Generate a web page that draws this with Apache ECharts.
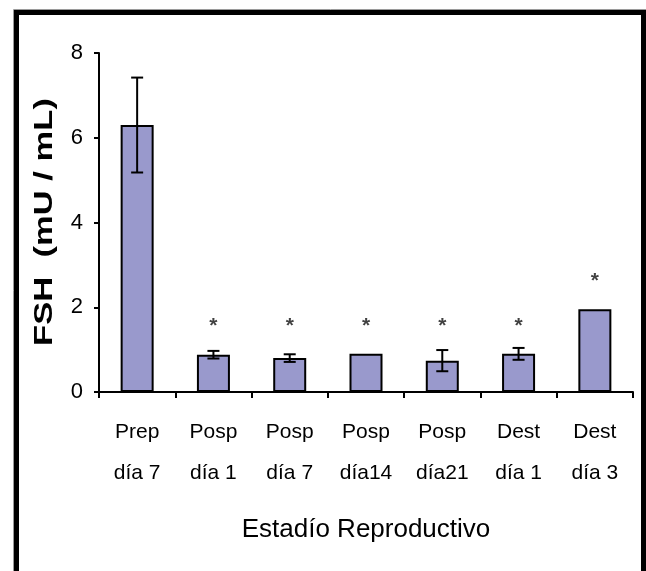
<!DOCTYPE html>
<html>
<head>
<meta charset="utf-8">
<script src="https://cdn.jsdelivr.net/npm/echarts@6/dist/echarts.min.js"></script>
<style>
  html, body { margin: 0; padding: 0; background: #ffffff; }
  #chart { width: 646px; height: 571px; }
</style>
</head>
<body>
<div id="chart"></div>
<script>
// Reproductive stages (x categories)
const stages = ['Prep\ndía 7', 'Posp\ndía 1', 'Posp\ndía 7', 'Posp\ndía14', 'Posp\ndía21', 'Dest\ndía 1', 'Dest\ndía 3'];
// Mean FSH (mU/mL) per stage
const fshMean = [6.3, 0.88, 0.80, 0.90, 0.74, 0.90, 1.95];
// Standard error per stage (0 = no bar drawn)
const fshErr = [1.12, 0.09, 0.09, 0, 0.25, 0.14, 0];
// Significance markers and the height where each one sits
const sigMark = ['', '*', '*', '*', '*', '*', '*'];
const sigLevel = [null, 1.65, 1.65, 1.65, 1.65, 1.65, 2.7];
// Axis titles
const xTitle = 'Estadío Reproductivo';
const yTitle = 'FSH  (mU / mL)';

const regular = '"Liberation Sans", Arial, sans-serif';

const chart = echarts.init(document.getElementById('chart'), null, { renderer: 'canvas' });

const errorData = fshMean.map((m, i) => [i, m, fshErr[i]]);
const sigData = sigLevel.map((v, i) => (v == null ? null : [i, v, sigMark[i]]));

chart.setOption({
  animation: false,
  backgroundColor: '#ffffff',
  grid: { left: 99, right: 13, top: 53, bottom: 179, containLabel: false },
  xAxis: {
    type: 'category',
    data: stages,
    boundaryGap: true,
    axisLine: { lineStyle: { color: '#000', width: 2 } },
    axisTick: { show: true, length: 6, lineStyle: { color: '#000', width: 2 } },
    axisLabel: {
      color: '#000', fontFamily: regular, fontSize: 21, lineHeight: 41, margin: 20, interval: 0
    },
    name: xTitle,
    nameLocation: 'middle',
    nameGap: 125,
    nameTextStyle: { color: '#000', fontFamily: regular, fontSize: 26, verticalAlign: 'top' }
  },
  yAxis: {
    type: 'value',
    min: 0, max: 8, interval: 2,
    splitLine: { show: false },
    axisLine: { show: true, lineStyle: { color: '#000', width: 2 } },
    axisTick: { show: true, length: 5, lineStyle: { color: '#000', width: 2 } },
    axisLabel: { color: '#000', fontFamily: regular, fontSize: 22, margin: 16 }
  },
  series: [
    {
      type: 'bar',
      data: fshMean,
      barWidth: 33,
      itemStyle: { color: '#9999cc', borderColor: '#000', borderWidth: 2 }
    },
    {
      type: 'custom',
      data: errorData,
      z: 5,
      renderItem: function (params, api) {
        const idx = api.value(0), mean = api.value(1), err = api.value(2);
        if (!err) return null;
        const hi = api.coord([idx, mean + err]);
        const lo = api.coord([idx, mean - err]);
        const cap = 6;
        const st = { stroke: '#000', lineWidth: 2 };
        return {
          type: 'group',
          children: [
            { type: 'line', shape: { x1: hi[0], y1: hi[1], x2: lo[0], y2: lo[1] }, style: st },
            { type: 'line', shape: { x1: hi[0] - cap, y1: hi[1], x2: hi[0] + cap, y2: hi[1] }, style: st },
            { type: 'line', shape: { x1: lo[0] - cap, y1: lo[1], x2: lo[0] + cap, y2: lo[1] }, style: st }
          ]
        };
      }
    },
    {
      type: 'scatter',
      data: sigData,
      symbolSize: 1,
      itemStyle: { color: 'rgba(0,0,0,0)' },
      label: {
        show: true,
        position: 'inside',
        offset: [0, 4],
        formatter: function (p) { return p.value[2]; },
        color: '#111',
        fontFamily: regular,
        fontWeight: 'bold',
        fontSize: 21
      }
    }
  ],
  graphic: [
    {
      // vertical axis title, stretched along its length
      type: 'text',
      silent: true,
      x: 45,
      y: 222,
      rotation: Math.PI / 2,
      scaleX: 1.33,
      style: {
        text: yTitle,
        fill: '#000',
        font: 'bold 26px "Liberation Sans", Arial, sans-serif',
        textAlign: 'center',
        textVerticalAlign: 'middle'
      }
    },
    {
      type: 'rect',
      silent: true,
      shape: { x: 13.5, y: 9.5, width: 640, height: 600 },
      style: { fill: 'none', stroke: '#9a9a9a', lineWidth: 1 }
    },
    {
      type: 'rect',
      silent: true,
      shape: { x: 16.5, y: 12.5, width: 627, height: 600 },
      style: { fill: 'none', stroke: '#000', lineWidth: 5 }
    }
  ]
});
</script>
</body>
</html>
